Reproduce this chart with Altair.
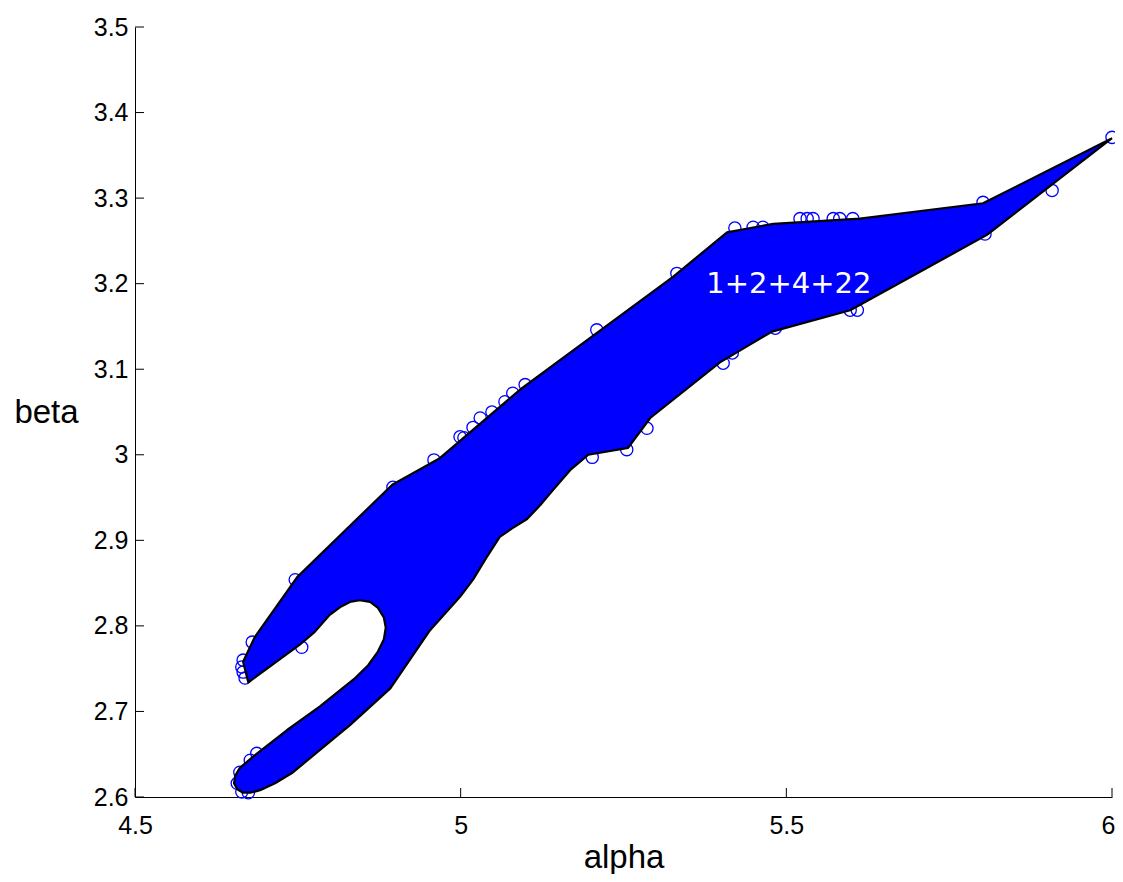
import altair as alt
import pandas as pd

# Region outline (alpha, beta), clockwise from the right-hand tip
poly_alpha = [6.000, 5.802, 5.613, 5.480, 5.409, 5.326, 5.153, 5.091, 4.968, 4.895,
              4.749, 4.684, 4.666, 4.674,
              4.753, 4.776, 4.799, 4.815, 4.830, 4.845, 4.861, 4.873, 4.882, 4.885,
              4.882, 4.873, 4.858, 4.838, 4.815, 4.784, 4.733, 4.681,
              4.661, 4.654, 4.652, 4.657, 4.666, 4.677, 4.692, 4.715, 4.741,
              4.784, 4.830, 4.892, 4.953, 4.999, 5.019, 5.039, 5.060, 5.079, 5.102,
              5.122, 5.142, 5.168, 5.196, 5.257, 5.291, 5.398, 5.478, 5.598, 5.808, 6.000]
poly_beta = [3.370, 3.294, 3.276, 3.270, 3.260, 3.208, 3.111, 3.076, 2.996, 2.965,
             2.857, 2.787, 2.758, 2.734,
             2.778, 2.793, 2.813, 2.822, 2.828, 2.830, 2.828, 2.821, 2.810, 2.798,
             2.784, 2.770, 2.754, 2.739, 2.725, 2.706, 2.678, 2.647,
             2.634, 2.625, 2.616, 2.609, 2.605, 2.605, 2.608, 2.616, 2.628,
             2.655, 2.684, 2.727, 2.795, 2.834, 2.854, 2.879, 2.904, 2.914, 2.925,
             2.941, 2.959, 2.982, 3.000, 3.008, 3.043, 3.108, 3.144, 3.169, 3.257, 3.370]

# Sample points (open circles)
pts_alpha = [6.000, 5.908, 5.802, 5.805, 5.602, 5.582, 5.572, 5.541, 5.532, 5.521,
             5.464, 5.449, 5.421, 5.332, 5.209, 5.598, 5.609, 5.483, 5.417, 5.403,
             5.286, 5.255, 5.202, 5.099, 5.080, 5.068, 5.048, 5.030, 5.019, 4.999,
             5.005, 4.959, 4.896, 4.746, 4.756, 4.680, 4.666, 4.664, 4.666, 4.669,
             4.687, 4.677, 4.661, 4.657, 4.664, 4.674]
pts_beta = [3.371, 3.309, 3.295, 3.258, 3.276, 3.276, 3.276, 3.276, 3.276, 3.276,
            3.266, 3.266, 3.265, 3.212, 3.146, 3.169, 3.169, 3.148, 3.119, 3.107,
            3.031, 3.006, 2.997, 3.082, 3.072, 3.062, 3.050, 3.043, 3.032, 3.021,
            3.020, 2.994, 2.962, 2.854, 2.775, 2.781, 2.760, 2.752, 2.746, 2.739,
            2.651, 2.643, 2.629, 2.616, 2.606, 2.605]

x_ticks = [4.5, 5.0, 5.5, 6.0]
y_ticks = [2.6, 2.7, 2.8, 2.9, 3.0, 3.1, 3.2, 3.3, 3.4, 3.5]

label_text = ["1+2+4+22"]
label_alpha = [5.504]
label_beta = [3.189]

poly_df = pd.DataFrame({"alpha": poly_alpha, "beta": poly_beta, "i": list(range(len(poly_alpha)))})
pts_df = pd.DataFrame({"alpha": pts_alpha, "beta": pts_beta})
lab_df = pd.DataFrame({"alpha": label_alpha, "beta": label_beta, "txt": label_text})
xt_df = pd.DataFrame({"alpha": x_ticks})
yt_df = pd.DataFrame({"beta": y_ticks})

xs = alt.Scale(domain=[4.5, 6.0], nice=False, zero=False)
ys = alt.Scale(domain=[2.6, 3.5], nice=False, zero=False)

FONT = "Liberation Sans"

x_axis = alt.Axis(values=x_ticks, format=".1~f", ticks=False, tickSize=0, grid=False,
                  domainColor="black", domainWidth=1, labelFont=FONT, labelFontSize=25,
                  labelColor="black", labelPadding=16, labelFlush=False,
                  labelOffset={"condition": {"test": "datum.value >= 6", "value": -4}, "value": 0},
                  title="alpha", titleFont=FONT,
                  titleFontSize=33, titleFontWeight="normal", titleColor="black",
                  titleY=70, titleBaseline="alphabetic")
y_axis = alt.Axis(values=y_ticks, format=".1~f", ticks=False, tickSize=0, grid=False,
                  domainColor="black", domainWidth=1, labelFont=FONT, labelFontSize=25,
                  labelColor="black", labelPadding=7, labelFlush=False,
                  title="beta", titleFont=FONT,
                  titleFontSize=33, titleFontWeight="normal", titleColor="black",
                  titleAngle=0, titleAlign="center", titleBaseline="middle",
                  titleX=-89, titleY=385)

X = alt.X("alpha:Q", scale=xs, axis=x_axis)
Y = alt.Y("beta:Q", scale=ys, axis=y_axis)

points = alt.Chart(pts_df).mark_point(shape="circle", filled=False, color="#0000ff",
                                      size=150, strokeWidth=1.3, opacity=1).encode(x=X, y=Y)

region = alt.Chart(poly_df).mark_line(fill="#0000ff", stroke="black", strokeWidth=2.2,
                                      strokeJoin="round", fillOpacity=1).encode(
    x=X, y=Y, order=alt.Order("i:Q"),
)

label = alt.Chart(lab_df).mark_text(color="white", font="DejaVu Sans", fontSize=29,
                                    align="center", baseline="alphabetic").encode(
    x=X, y=Y, text="txt:N",
)

xticks = alt.Chart(xt_df).mark_rule(color="black", strokeWidth=1).encode(
    x=X, y=alt.value(770), y2=alt.value(761),
)
yticks = alt.Chart(yt_df).mark_rule(color="black", strokeWidth=1).encode(
    y=Y, x=alt.value(0), x2=alt.value(9),
)

chart = alt.layer(points, region, label, xticks, yticks).properties(
    width=977, height=770,
    autosize=alt.AutoSizeParams(type="none"),
    padding={"left": 127, "top": 19, "right": 3, "bottom": 77},
).configure_view(stroke=None)

chart.save("out.html", embed_options={"renderer": "svg", "actions": False})
